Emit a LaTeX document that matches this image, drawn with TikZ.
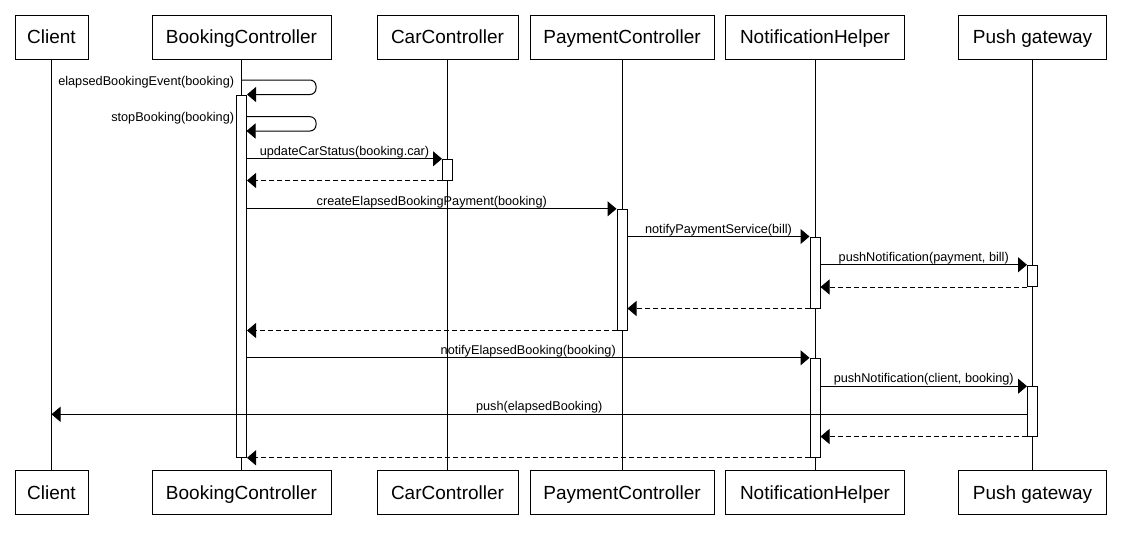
\documentclass[tikz,border=0pt]{standalone}
\usepackage{fontspec}
\setmainfont{Liberation Sans}
\usetikzlibrary{arrows.meta}
\begin{document}
\begin{tikzpicture}[x=1pt,y=-1pt,
  hd/.style={draw, line width=1pt, inner sep=0pt, minimum height=44.3pt,
    font=\fontsize{19}{19}\selectfont, text height=13.6pt, text depth=0pt},
  life/.style={line width=0.9pt},
  act/.style={draw, fill=white, line width=1pt, minimum width=10pt, inner sep=0pt},
  msg/.style={line width=1pt, -{Triangle[length=9pt,width=15pt]}},
  ret/.style={msg, dash pattern=on 5pt off 3pt},
  lbl/.style={font=\fontsize{12.7}{12.7}\selectfont, inner sep=0pt},
  mlbl/.style={lbl, midway, anchor=base, yshift=3.5pt}]
\useasboundingbox (0,0) rectangle (1121,539);
\fill[white] (0,0) rectangle (1121,539);

% heads (top)
\node[hd, minimum width=73pt]  (tC)   at (51.5,37.15)  {Client};
\node[hd, minimum width=179pt] (tB)   at (241.5,37.15) {BookingController};
\node[hd, minimum width=141pt] (tCar) at (447.5,37.15) {CarController};
\node[hd, minimum width=184pt] (tP)   at (622,37.15)   {PaymentController};
\node[hd, minimum width=179pt] (tN)   at (815,37.15)   {NotificationHelper};
\node[hd, minimum width=148pt] (tG)   at (1032.5,37.15) {Push gateway};
% heads (bottom)
\node[hd, minimum width=73pt]  (bC)   at (51.5,492.2)  {Client};
\node[hd, minimum width=179pt] (bB)   at (241.5,492.2) {BookingController};
\node[hd, minimum width=141pt] (bCar) at (447.5,492.2) {CarController};
\node[hd, minimum width=184pt] (bP)   at (622,492.2)   {PaymentController};
\node[hd, minimum width=179pt] (bN)   at (815,492.2)   {NotificationHelper};
\node[hd, minimum width=148pt] (bG)   at (1032.5,492.2) {Push gateway};

% lifelines
\draw[life] (tC) -- (bC);
\draw[life] (tB) -- (bB);
\draw[life] (tCar) -- (bCar);
\draw[life] (tP) -- (bP);
\draw[life] (tN) -- (bN);
\draw[life] (tG) -- (bG);

% activations
\node[act, minimum height=362pt]  (aB)   at (241.5,276)    {};
\node[act, minimum height=20.7pt] (aCar) at (447.5,169.65) {};
\node[act, minimum height=120.7pt] (aP)  at (622,269.65)   {};
\node[act, minimum height=71pt]   (aN1)  at (815,272.5)    {};
\node[act, minimum height=21.2pt] (aG1)  at (1032.5,275.9) {};
\node[act, minimum height=99pt]   (aN2)  at (815,407.8)    {};
\node[act, minimum height=49.3pt] (aG2)  at (1032.5,411.35) {};

% self messages
\coordinate (s1) at (241.5,80);
\coordinate (s2) at (246.5,116.7);
\coordinate (e2) at (246.5,131);
\draw[msg, rounded corners=6pt] (s1) -- (316,80) |- (aB.north east);
\node[lbl, anchor=base east] (l1) at (234.3,85.7) {elapsedBookingEvent(booking)};
\draw[msg, rounded corners=6pt] (s2) -- (316,116.7) |- (e2);
\node[lbl, anchor=base east] (l2) at (234.3,121.3) {stopBooking(booking)};

% calls and returns
\draw[msg] (aB.east |- aCar.north) -- (aCar.north west)
  node[mlbl] (l3) {updateCarStatus(booking.car)};
\draw[ret] (aCar.south west) -- (aB.east |- aCar.south);

\draw[msg] (aB.east |- aP.north) -- (aP.north west)
  node[mlbl] (l5) {createElapsedBookingPayment(booking)};
\draw[msg] (aP.east |- aN1.north) -- (aN1.north west)
  node[mlbl] (l6) {notifyPaymentService(bill)};
\draw[msg] (aN1.east |- aG1.north) -- (aG1.north west)
  node[mlbl] (l7) {pushNotification(payment, bill)};
\draw[ret] (aG1.south west) -- (aN1.east |- aG1.south);
\draw[ret] (aN1.south west) -- (aP.east |- aN1.south);
\draw[ret] (aP.south west) -- (aB.east |- aP.south);

\draw[msg] (aB.east |- aN2.north) -- (aN2.north west)
  node[mlbl] (l11) {notifyElapsedBooking(booking)};
\draw[msg] (aN2.east |- aG2.north) -- (aG2.north west)
  node[mlbl] (l12) {pushNotification(client, booking)};
\coordinate (y13) at (0,414.3);
\draw[msg] (aG2.west |- y13) -- (tC.south |- y13)
  node[mlbl] (l13) {push(elapsedBooking)};
\draw[ret] (aG2.south west) -- (aN2.east |- aG2.south);
\draw[ret] (aN2.south west) -- (aB.east |- aN2.south);
\end{tikzpicture}
\end{document}
